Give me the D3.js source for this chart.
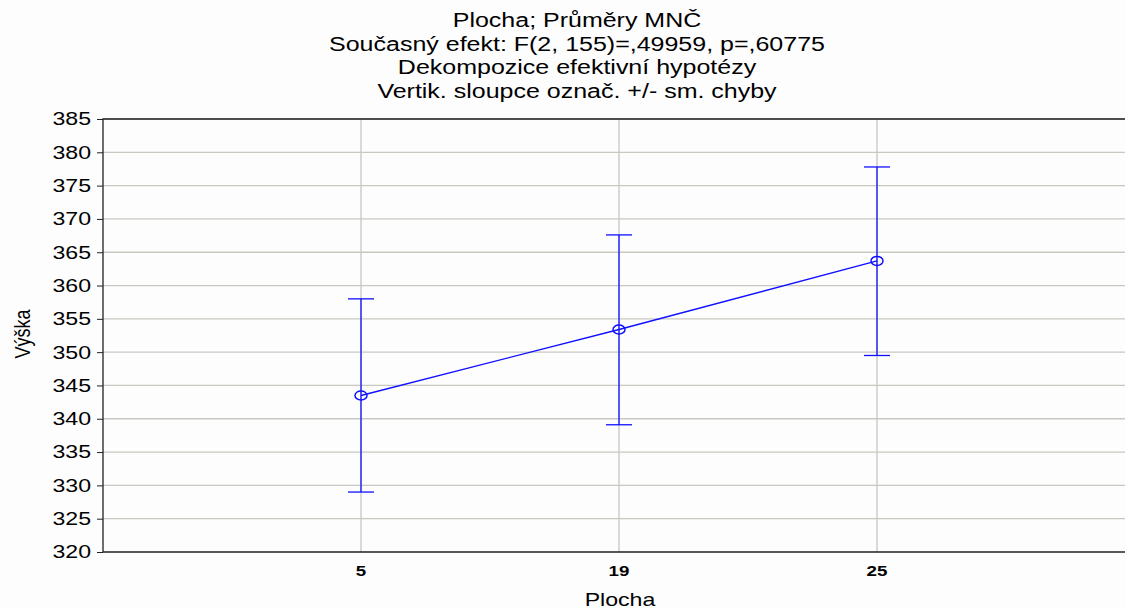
<!DOCTYPE html>
<html>
<head>
<meta charset="utf-8">
<script src="https://cdn.jsdelivr.net/npm/d3@7"></script>
<style>
  body { margin: 0; background: #fdfdfd; }
  text { font-family: Arial, "Liberation Sans", sans-serif; fill: #000; }
</style>
</head>
<body>
<div id="chart"></div>
<script>
// data
const categories = ["5", "19", "25"];
const means = [343.5, 353.4, 363.7];
const upper = [358.0, 367.6, 377.8];
const lower = [329.0, 339.1, 349.5];
const yTicks = [320, 325, 330, 335, 340, 345, 350, 355, 360, 365, 370, 375, 380, 385];
const titleLines = [
  "Plocha; Průměry MNČ",
  "Současný efekt: F(2, 155)=,49959, p=,60775",
  "Dekompozice efektivní hypotézy",
  "Vertik. sloupce označ. +/- sm. chyby"
];

const W = 1125, H = 609;
const m = { left: 103, top: 119, right: 1135, bottom: 552 };
const sx = 1.25; // text in the source is stretched sideways

const svg = d3.select('#chart').append('svg')
  .attr('width', W).attr('height', H);

svg.append('rect').attr('width', W).attr('height', H).attr('fill', '#fdfdfd');

const x = d3.scalePoint()
  .domain(["", ...categories, " "])
  .range([m.left, m.right]);
const y = d3.scaleLinear()
  .domain([320, 385])
  .range([m.bottom, m.top]);

// place stretched text
function label(g, tx, ty, str, size, extra) {
  const t = g.append('text')
    .attr('transform', `translate(${tx},${ty}) ${extra || ''} scale(${sx},1)`)
    .attr('text-anchor', 'middle')
    .style('font-size', size + 'px')
    .text(str);
  return t;
}

// grid
svg.append('g').selectAll('line.h')
  .data(yTicks.slice(1)).enter().append('line')
  .attr('x1', m.left).attr('x2', m.right)
  .attr('y1', d => y(d)).attr('y2', d => y(d))
  .attr('stroke', '#c8c8c0').attr('stroke-width', 1.3);
svg.append('g').selectAll('line.v')
  .data(categories).enter().append('line')
  .attr('x1', d => x(d)).attr('x2', d => x(d))
  .attr('y1', m.top).attr('y2', m.bottom)
  .attr('stroke', '#c8c8c0').attr('stroke-width', 1.3);

// frame
svg.append('path')
  .attr('d', `M${m.right},${m.top}H${m.left}V${m.bottom}H${m.right}`)
  .attr('fill', 'none').attr('stroke', '#222').attr('stroke-width', 1.3);

// y axis
const yAxis = svg.append('g')
  .attr('transform', `translate(${m.left},0)`)
  .call(d3.axisLeft(y).tickValues(yTicks).tickSize(6).tickPadding(0));
yAxis.select('.domain').remove();
yAxis.selectAll('line').attr('stroke', '#222');
yAxis.selectAll('text')
  .attr('x', -12 / sx)
  .attr('transform', `scale(${sx},1)`)
  .style('font-size', '18.5px')
  .style('font-family', 'Arial, "Liberation Sans", sans-serif')
  .attr('fill', '#000');

// x axis labels
const xl = svg.append('g');
categories.forEach(c => {
  label(xl, x(c), 575.5, c, 15).style('font-weight', 'bold');
});

// axis titles
label(svg, 620, 606, 'Plocha', 18.5);
svg.append('text')
  .attr('transform', `translate(30,334) scale(${sx},1) rotate(-90)`)
  .attr('text-anchor', 'middle').style('font-size', '18px').text('Výška');

// title
const tg = svg.append('g');
titleLines.forEach((d, i) => {
  label(tg, 577, 27 + i * 23.7, d, 20);
});

// error bars
const blue = '#1010ff';
const eb = svg.append('g').attr('stroke', blue).attr('stroke-width', 1.3).attr('fill', 'none');
categories.forEach((c, i) => {
  eb.append('line').attr('x1', x(c)).attr('x2', x(c)).attr('y1', y(upper[i])).attr('y2', y(lower[i]));
  eb.append('line').attr('x1', x(c) - 13).attr('x2', x(c) + 13).attr('y1', y(upper[i])).attr('y2', y(upper[i]));
  eb.append('line').attr('x1', x(c) - 13).attr('x2', x(c) + 13).attr('y1', y(lower[i])).attr('y2', y(lower[i]));
});

// mean line
const line = d3.line().x((d, i) => x(categories[i])).y(d => y(d));
svg.append('path').datum(means)
  .attr('d', line).attr('fill', 'none').attr('stroke', blue).attr('stroke-width', 1.4);

svg.append('g').selectAll('ellipse')
  .data(means).enter().append('ellipse')
  .attr('cx', (d, i) => x(categories[i])).attr('cy', d => y(d))
  .attr('rx', 6).attr('ry', 4.5)
  .attr('fill', 'none').attr('stroke', blue).attr('stroke-width', 1.5);
</script>
</body>
</html>
